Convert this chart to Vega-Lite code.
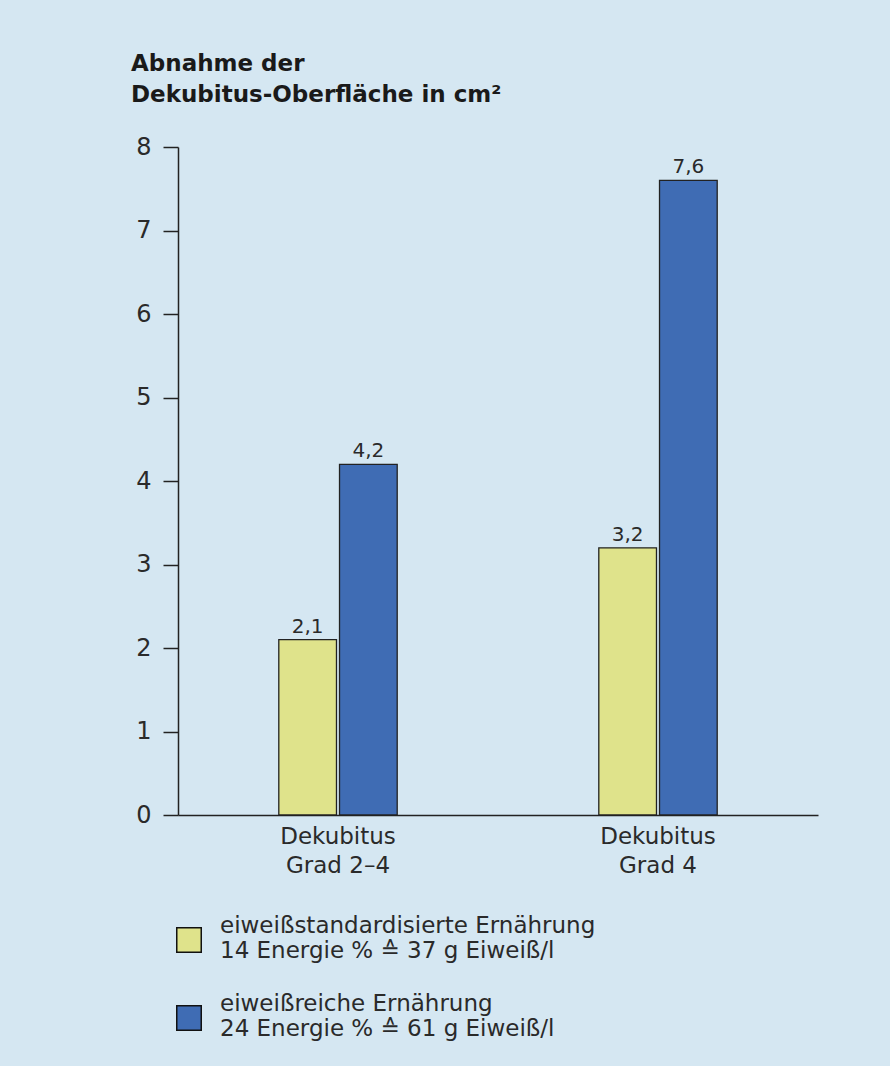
{
  "$schema": "https://vega.github.io/schema/vega-lite/v6.json",
  "width": 640,
  "height": 668,
  "autosize": {"type": "none"},
  "padding": {"left": 178, "top": 147, "right": 72, "bottom": 251},
  "background": "#d5e7f2",
  "config": {
    "font": "DejaVu Sans",
    "view": {"stroke": null}
  },
  "title": {
    "text": ["Abnahme der", "Dekubitus-Oberfläche in cm²"],
    "anchor": "start",
    "frame": "group",
    "dx": -47,
    "offset": 28,
    "fontSize": 23,
    "fontWeight": "bold",
    "font": "DejaVu Sans",
    "color": "#1a1a1a",
    "lineHeight": 31
  },
  "data": {
    "values": [
      {"grad": "Dekubitus|Grad 2–4", "gruppe": "eiweißstandardisierte Ernährung|14 Energie % ≙ 37 g Eiweiß/l", "wert": 2.1, "label": "2,1"},
      {"grad": "Dekubitus|Grad 2–4", "gruppe": "eiweißreiche Ernährung|24 Energie % ≙ 61 g Eiweiß/l", "wert": 4.2, "label": "4,2"},
      {"grad": "Dekubitus|Grad 4", "gruppe": "eiweißstandardisierte Ernährung|14 Energie % ≙ 37 g Eiweiß/l", "wert": 3.2, "label": "3,2"},
      {"grad": "Dekubitus|Grad 4", "gruppe": "eiweißreiche Ernährung|24 Energie % ≙ 61 g Eiweiß/l", "wert": 7.6, "label": "7,6"}
    ]
  },
  "encoding": {
    "x": {
      "field": "grad",
      "type": "nominal",
      "sort": null,
      "scale": {"paddingInner": 0.63, "paddingOuter": 0.315},
      "axis": {
        "title": null,
        "labelExpr": "split(datum.label, '|')",
        "labelAngle": 0,
        "labelFontSize": 23,
        "labelLineHeight": 29,
        "labelColor": "#2a2a2a",
        "labelPadding": 10,
        "ticks": false,
        "domainColor": "#222222",
        "domainWidth": 1.5
      }
    },
    "xOffset": {
      "field": "gruppe",
      "type": "nominal",
      "sort": null,
      "scale": {"paddingInner": 0.05}
    },
    "y": {
      "field": "wert",
      "type": "quantitative",
      "scale": {"domain": [0, 8]},
      "axis": {
        "title": null,
        "values": [0, 1, 2, 3, 4, 5, 6, 7, 8],
        "grid": false,
        "tickSize": 15,
        "tickColor": "#222222",
        "tickWidth": 1.5,
        "domainColor": "#222222",
        "domainWidth": 1.5,
        "labelFontSize": 24,
        "labelColor": "#2a2a2a",
        "labelPadding": 12
      }
    }
  },
  "layer": [
    {
      "mark": {"type": "bar", "stroke": "#222222", "strokeWidth": 1.3},
      "encoding": {
        "color": {
          "field": "gruppe",
          "type": "nominal",
          "sort": null,
          "scale": {"range": ["#dfe38b", "#3f6cb4"]},
          "legend": {
            "title": null,
            "orient": "none",
            "legendX": -2,
            "legendY": 780,
            "direction": "vertical",
            "symbolType": "square",
            "symbolSize": 600,
            "symbolStrokeColor": "#111111",
            "symbolStrokeWidth": 1.5,
            "symbolOpacity": 1,
            "labelExpr": "split(datum.label, '|')",
            "labelFontSize": 23,
            "labelLineHeight": 28,
            "labelColor": "#2a2a2a",
            "labelOffset": 18,
            "labelLimit": 0,
            "rowPadding": 30,
            "encode": {"labels": {"update": {"dy": {"value": -14}}}}
          }
        }
      }
    },
    {
      "mark": {"type": "text", "baseline": "bottom", "dy": -3, "fontSize": 20, "color": "#2a2a2a"},
      "encoding": {
        "text": {"field": "label"}
      }
    }
  ]
}
